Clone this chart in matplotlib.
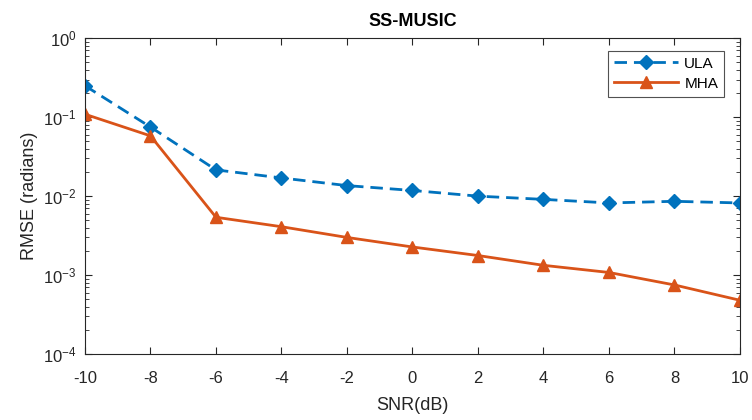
import matplotlib
matplotlib.use("Agg")
import matplotlib.pyplot as plt
from matplotlib.ticker import LogLocator, NullFormatter

plt.rcParams["font.family"] = ["Liberation Sans", "DejaVu Sans"]
plt.rcParams["mathtext.fontset"] = "custom"
plt.rcParams["mathtext.rm"] = "Liberation Sans"
plt.rcParams["axes.unicode_minus"] = False

# data
snr = [-10, -8, -6, -4, -2, 0, 2, 4, 6, 8, 10]
rmse_ula = [0.25, 0.075, 0.0215, 0.017, 0.0136, 0.0118, 0.0100, 0.0091, 0.0082, 0.0086, 0.0082]
rmse_mha = [0.109, 0.058, 0.0054, 0.0041, 0.0030, 0.00227, 0.00177, 0.00133, 0.00108, 0.00075, 0.00048]

fig = plt.figure(figsize=(7.52, 4.2), dpi=100)
ax = fig.add_axes([0.113, 0.157, 0.871, 0.752])

ax.semilogy(snr, rmse_ula, color="#0072BD", linestyle=(0, (4.5, 2.5)), marker="D",
            markersize=7.5, linewidth=2, label="ULA")
ax.semilogy(snr, rmse_mha, "-", color="#D95319", marker="^", markersize=9,
            linewidth=2, label="MHA")

ax.set_xlim(-10, 10)
ax.set_ylim(1e-4, 1)
ax.set_xticks(range(-10, 11, 2))
ax.yaxis.set_major_locator(LogLocator(base=10, numticks=10))
ax.yaxis.set_minor_locator(LogLocator(base=10, subs=range(2, 10), numticks=20))
ax.yaxis.set_minor_formatter(NullFormatter())

ax.tick_params(which="both", direction="in", top=True, right=True, labelsize=12,
               color="#262626", labelcolor="#262626")
ax.tick_params(axis="x", pad=12)
ax.tick_params(axis="y", pad=6)
ax.tick_params(which="major", length=5)
ax.tick_params(which="minor", length=3)
for s in ax.spines.values():
    s.set_linewidth(0.8)
    s.set_color("#262626")

ax.set_xlabel("SNR(dB)", fontsize=13, labelpad=8, color="#262626")
ax.set_ylabel("RMSE (radians)", fontsize=13, labelpad=4, color="#262626")
ax.set_title("SS-MUSIC", fontsize=13, fontweight="bold", pad=9)

leg = ax.legend(loc="upper right", fontsize=11, fancybox=False, edgecolor="#262626",
                handlelength=4.2, handletextpad=0.4, borderaxespad=0.6,
                labelspacing=0.4, bbox_to_anchor=(0.99, 0.99))
leg.get_frame().set_linewidth(0.8)

fig.savefig("out.png", dpi=100)
